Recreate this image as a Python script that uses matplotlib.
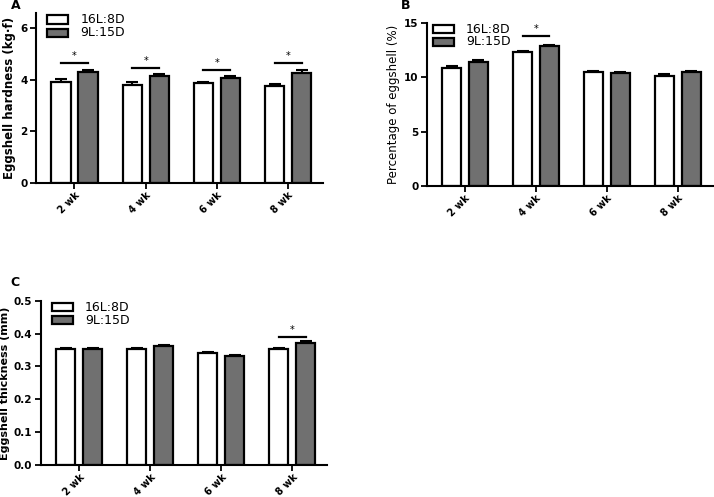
import matplotlib
matplotlib.use('Agg')
import matplotlib.pyplot as plt
import numpy as np

plt.rcParams['font.family'] = ['DejaVu Sans']

weeks = ['2 wk', '4 wk', '6 wk', '8 wk']
groups = ['16L:8D', '9L:15D']

# eggshell hardness (kg.f)
hard_long = [3.93, 3.82, 3.86, 3.76]
hard_long_err = [0.12, 0.08, 0.05, 0.08]
hard_short = [4.31, 4.14, 4.08, 4.27]
hard_short_err = [0.08, 0.08, 0.08, 0.10]
hard_sig = [4.66, 4.47, 4.40, 4.66]

# percentage of eggshell (%)
pct_long = [10.85, 12.30, 10.46, 10.09]
pct_long_err = [0.15, 0.12, 0.10, 0.15]
pct_short = [11.35, 12.87, 10.34, 10.43]
pct_short_err = [0.25, 0.12, 0.12, 0.12]
pct_sig = [None, 13.8, None, None]

# eggshell thickness (mm)
thick_long = [0.352, 0.352, 0.342, 0.352]
thick_long_err = [0.004, 0.003, 0.003, 0.003]
thick_short = [0.352, 0.362, 0.332, 0.372]
thick_short_err = [0.003, 0.003, 0.004, 0.005]
thick_sig = [None, None, None, 0.39]

GRAY = '#707070'
W = 0.27
OFF = 0.19


def panel(fig, rect, label, ylab, lo, lo_err, hi, hi_err, sig, ylim, yticks,
          ytl, leg_pos, label_pos, ylab_bold=True, ylab_size=8.5):
    ax = fig.add_axes(rect)
    x = np.arange(len(weeks))
    for xs, vals, errs, col in [(x - OFF, lo, lo_err, 'white'), (x + OFF, hi, hi_err, GRAY)]:
        ax.errorbar(xs, vals, yerr=[np.zeros(len(vals)), errs], fmt='none',
                    ecolor='black', elinewidth=1.5, capsize=4, capthick=1.5, zorder=1)
        ax.bar(xs, vals, width=W, color=col, edgecolor='black', linewidth=1.6, zorder=2)
    dy = ylim[1] * 0.012
    for i, s in enumerate(sig):
        if s is None:
            continue
        ax.plot([i - OFF, i + OFF], [s, s], color='black', lw=1.6, zorder=3)
        ax.text(i, s + dy, '*', ha='center', va='bottom', fontsize=7)
    ax.set_xlim(-0.54, 3.49)
    ax.set_ylim(*ylim)
    ax.set_yticks(yticks)
    ax.set_yticklabels(ytl, fontsize=7.5, fontweight='bold')
    ax.set_xticks(x)
    ax.set_xticklabels(weeks, rotation=45, ha='right', rotation_mode='anchor',
                       fontsize=7, fontweight='bold')
    for sp in ['top', 'right']:
        ax.spines[sp].set_visible(False)
    for sp in ['left', 'bottom']:
        ax.spines[sp].set_linewidth(1.5)
    ax.tick_params(width=1.3, length=4, pad=2)
    ax.tick_params(axis='x', pad=1)
    ax.set_ylabel(ylab, fontsize=ylab_size,
                  fontweight='bold' if ylab_bold else 'normal', labelpad=3)

    # legend boxes
    lx, ly = leg_pos
    for k, (name, col) in enumerate(zip(groups, ['white', GRAY])):
        yy = ly - k * 0.078
        ax.add_patch(plt.Rectangle((lx, yy), 0.073, 0.05, transform=ax.transAxes,
                                   facecolor=col, edgecolor='black', lw=1.6,
                                   clip_on=False, zorder=4))
        ax.text(lx + 0.115, yy + 0.025, name, transform=ax.transAxes,
                va='center', ha='left', fontsize=9)
    fig.text(label_pos[0], label_pos[1], label, fontsize=9, fontweight='bold',
             ha='left', va='center')
    return ax


fig = plt.figure(figsize=(7.14, 4.97), dpi=100)

panel(fig, [0.0504, 0.632, 0.402, 0.342], 'A', 'Eggshell hardness (kg\u00b7f)',
      hard_long, hard_long_err, hard_short, hard_short_err, hard_sig,
      (0, 6.6), [0, 2, 4, 6], ['0', '2', '4', '6'], (0.04, 0.935), (0.016, 0.988))

panel(fig, [0.5976, 0.6258, 0.4006, 0.3286], 'B', 'Percentage of eggshell (%)',
      pct_long, pct_long_err, pct_short, pct_short_err, pct_sig,
      (0, 15), [0, 5, 10, 15], ['0', '5', '10', '15'], (0.022, 0.935), (0.562, 0.988),
      ylab_bold=False)

panel(fig, [0.057, 0.0644, 0.401, 0.3306], 'C', 'Eggshell thickness (mm)',
      thick_long, thick_long_err, thick_short, thick_short_err, thick_sig,
      (0, 0.5), [0, 0.1, 0.2, 0.3, 0.4, 0.5],
      ['0.0', '0.1', '0.2', '0.3', '0.4', '0.5'], (0.04, 0.935), (0.014, 0.431),
      ylab_size=8)

fig.savefig('out.png', dpi=100)
